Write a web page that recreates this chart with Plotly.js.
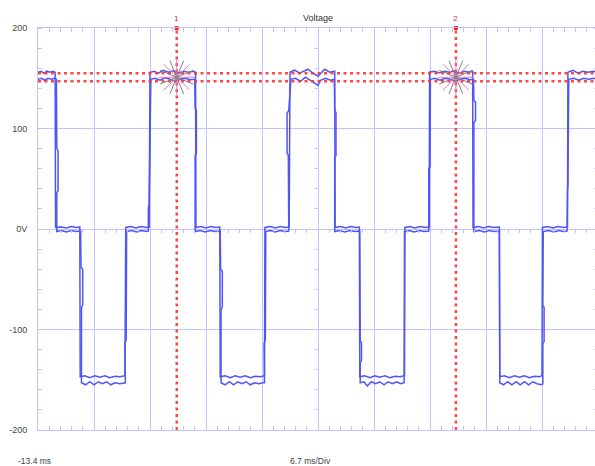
<!DOCTYPE html>
<html>
<head>
<meta charset="utf-8">
<script src="https://cdn.plot.ly/plotly-3.0.1.min.js"></script>
<style>
html,body{margin:0;padding:0;overflow:hidden;background:#fff;}
#chart{width:600px;height:466px;}
</style>
</head>
<body>
<div id="chart"></div>
<script>
// ---- data (time in ms, voltage in V) ----
const upperT = [-13.4,-13.0,-12.7,-12.3,-12.0,-11.6,-11.35,
  -11.3,-10.6,-10.0,-9.4,-8.8,-8.4,
  -8.35,-7.8,-7.2,-6.6,-6.0,-5.4,-4.8,-4.2,-3.6,-3.0,
  -2.9,-2.3,-1.7,-1.1,-0.5,-0.1,
  0.0,0.5,1.0,1.6,2.2,2.8,3.4,4.0,4.6,5.2,5.45,
  5.5,6.1,6.7,7.3,7.9,8.35,
  8.4,9.0,9.6,10.2,10.8,11.4,12.0,12.6,13.2,13.7,
  13.75,14.4,15.0,15.6,16.2,16.65,
  16.75,17.3,17.9,18.5,18.9,19.5,20.1,20.9,21.5,22.1,
  22.15,22.8,23.4,24.0,24.6,25.05,
  25.1,25.7,26.3,26.9,27.5,28.1,28.7,29.3,29.9,30.45,
  30.5,31.1,31.7,32.3,32.9,33.4,
  33.45,34.0,34.6,35.2,35.8,36.4,37.0,37.6,38.2,38.6,
  38.65,39.3,39.9,40.5,41.1,41.8,
  41.85,42.4,43.0,43.6,44.2,44.8,45.4,46.0,46.6,46.9,
  46.95,47.6,48.2,48.8,49.4,49.95,
  50.0,50.6,51.2,51.8,52.4,53.0,53.6];
const upperV = [156,157,155,157,156,157,156,
  1.5,2,1,2.5,1.5,2,
  -147,-146,-148,-146,-147.5,-146,-148,-146.5,-147,-146,
  1.5,2.5,1,2.5,1.5,2,
  156,157,155,158,156,157.5,155,157,156,157,156,
  1.5,2.5,1,2.5,1.5,2,
  -147,-146,-148,-146,-147.5,-146,-148,-146.5,-147,-146,
  1.5,2.5,1,2.5,1.5,2,
  156,158,155,157,159,155,152,159,156,157,
  1.5,2.5,1,2.5,1.5,2,
  -147,-146,-148,-146,-147.5,-146,-148,-146.5,-147,-146,
  1.5,2.5,1,2.5,1.5,2,
  156,157,155.5,157,156,157.5,155,157,156,157,
  1.5,2.5,1,2.5,1.5,2,
  -147,-146,-148,-146,-147.5,-146,-148,-146.5,-147,-146,
  1.5,2.5,1,2.5,1.5,2,
  156,158,155,157,156,157,156];

const lowerT = [-13.4,-13.0,-12.6,-12.2,-11.8,-11.4,-11.2,
  -11.15,-11.0,-11.0,-11.15,-11.15,
  -10.6,-10.0,-9.4,-8.8,-8.3,
  -8.25,-8.05,-8.05,-8.2,-8.2,
  -7.7,-7.2,-6.7,-6.2,-5.7,-5.2,-4.7,-4.2,-3.6,-3.1,-2.95,
  -3.0,-2.85,-2.8,
  -2.2,-1.6,-1.0,-0.4,-0.2,
  -0.2,-0.1,0.1,
  0.6,1.2,1.8,2.4,3.0,3.6,4.2,4.8,5.35,
  5.4,5.55,5.55,5.4,5.4,
  6.0,6.6,7.2,7.8,8.4,
  8.45,8.65,8.65,8.5,8.5,
  9.0,9.5,10.0,10.5,11.0,11.5,12.0,12.5,13.0,13.5,13.7,
  13.65,13.8,13.85,
  14.4,15.0,15.6,16.2,16.6,
  16.55,16.4,16.4,16.6,16.85,
  17.4,18.0,18.6,19.2,19.8,20.1,20.4,21.0,21.6,22.05,
  22.1,22.25,22.25,22.1,22.1,
  22.7,23.3,23.9,24.5,25.1,
  25.15,25.3,25.3,25.15,25.15,
  25.6,26.0,26.5,27.0,27.5,28.0,28.5,29.0,29.5,30.0,30.4,
  30.45,
  31.0,31.6,32.2,32.8,33.35,
  33.35,33.5,33.55,
  34.1,34.7,35.3,35.9,36.5,37.1,37.7,38.3,38.7,
  38.75,38.95,38.95,38.75,38.75,
  39.4,40.0,40.6,41.2,41.8,
  41.85,
  42.3,42.8,43.3,43.8,44.3,44.8,45.3,45.8,46.3,46.8,47.0,
  47.0,47.15,47.15,47.0,47.05,
  47.7,48.3,48.9,49.5,49.9,
  49.95,50.0,50.1,
  50.7,51.3,51.9,52.5,53.1,53.6];
const lowerV = [149,150,148,150,149,150,149,
  80,78,38,36,-2.5,
  -1.5,-3,-1.5,-2.5,-2,
  -38,-40,-76,-78,-153,
  -155,-152,-155,-152,-154,-152,-155,-153,-154,-153,-153,
  -114,-110,-2.5,
  -1.5,-3,-1.5,-2.5,-2,
  21,24,149,
  150,148,150.5,149,147,149,150,148.5,149,
  120,118,75,73,-2.5,
  -1.5,-3,-1.5,-2.5,-2,
  -40,-42,-78,-80,-153,
  -155,-152,-155,-152,-154,-152,-155,-153,-154,-153,-153,
  -114,-110,-2.5,
  -1.5,-3,-1.5,-2.5,-2,
  73,76,115,118,149,
  150,147,151,148,145,143,148,150,148,149,
  118,116,73,71,-2.5,
  -1.5,-3,-1.5,-2.5,-2,
  -111,-113,-131,-133,-153,
  -152,-156,-152,-154,-152,-155,-152,-154,-152,-154,-153,
  -2.5,
  -1.5,-3,-1.5,-2.5,-2,
  60,62,149,
  150,148,150,149,147,149,150,148.5,149,
  128,126,108,106,-2.5,
  -1.5,-3,-1.5,-2.5,-2,
  -153,
  -155,-152,-155,-152,-155,-152,-155,-152,-154,-155,-154,
  -114,-112,-78,-76,-2.5,
  -1.5,-3,-1.5,-2.5,-2,
  40,42,149,
  150,148,150,149,150,149];

const cursorTimes = [3.2, 36.6];
const cursorLabels = ['1', '2'];
const cursorLevels = [155, 147];
const starLevel = 151;

const xStart = -13.4, msPerDiv = 6.7, nDiv = 10;
const yTickVals = [200, 100, 0, -100, -200];
const yTickText = ['200', '100', '0V', '-100', '-200'];
const titleText = 'Voltage';
const leftLabel = '-13.4 ms';
const divLabel = '6.7 ms/Div';

// ---- styling ----
const gridCol = '#c2c2ff';
const waveCol = '#4f55f6';
const redCol = 'rgba(255,50,50,0.9)';
const xEnd = xStart + msPerDiv * nDiv;
const fnt = 'Liberation Sans, Arial, sans-serif';

const traces = [];
traces.push({x: upperT, y: upperV, mode: 'lines', line: {color: waveCol, width: 1.5}, hoverinfo: 'skip'});
traces.push({x: lowerT, y: lowerV, mode: 'lines', line: {color: waveCol, width: 1.5}, hoverinfo: 'skip'});

cursorTimes.forEach(t => {
  traces.push({x: [t, t], y: [-200, 200], mode: 'lines',
    line: {color: redCol, width: 2.5, dash: '3px,3.5px'}, hoverinfo: 'skip'});
});
cursorLevels.forEach(v => {
  traces.push({x: [xStart, xEnd], y: [v, v], mode: 'lines',
    line: {color: redCol, width: 2.5, dash: '3px,3.5px'}, hoverinfo: 'skip'});
});
[0, 22.5].forEach(a => {
  traces.push({x: cursorTimes, y: cursorTimes.map(() => starLevel), mode: 'markers',
    marker: {symbol: 'asterisk-open', size: 30, angle: a, line: {color: 'rgba(255,90,90,0.45)', width: 1}},
    hoverinfo: 'skip'});
});
traces.push({x: cursorTimes, y: cursorTimes.map(() => 200), mode: 'markers', cliponaxis: false,
  marker: {symbol: 'square', size: 4, color: 'rgb(255,30,30)'}, hoverinfo: 'skip'});
// helper trace for center axes
traces.push({x: [xStart], y: [0], xaxis: 'x2', yaxis: 'y2', mode: 'markers',
  marker: {opacity: 0}, hoverinfo: 'skip'});

const annotations = [];
cursorTimes.forEach((t, i) => {
  annotations.push({x: t, xref: 'x', y: 1.024, yref: 'paper', text: cursorLabels[i], showarrow: false,
    font: {family: fnt, size: 8, color: '#c03030'}, xanchor: 'center', yanchor: 'middle'});
});
annotations.push({x: -0.007, xref: 'paper', y: -0.077, yref: 'paper', text: leftLabel, showarrow: false,
  font: {family: fnt, size: 8.5, color: '#444'}, xanchor: 'center', yanchor: 'middle'});
annotations.push({x: 0.486, xref: 'paper', y: -0.077, yref: 'paper', text: divLabel, showarrow: false,
  font: {family: fnt, size: 8.5, color: '#444'}, xanchor: 'center', yanchor: 'middle'});

const layout = {
  width: 600, height: 466,
  margin: {l: 38, r: 2, t: 28, b: 36},
  paper_bgcolor: '#fff', plot_bgcolor: '#fff',
  showlegend: false,
  title: {text: titleText, x: 0.5, xref: 'paper', xanchor: 'center', y: 0.962, yref: 'container', yanchor: 'middle',
    font: {family: fnt, size: 9, color: '#333'}},
  xaxis: {range: [xStart, xEnd], dtick: msPerDiv, tick0: xStart, showticklabels: false,
    showgrid: true, gridcolor: gridCol, gridwidth: 1, zeroline: false,
    showline: true, linecolor: gridCol, linewidth: 1, mirror: 'ticks',
    ticks: '', minor: {dtick: msPerDiv / 5, tick0: xStart, ticks: 'inside', ticklen: 4, tickcolor: gridCol, showgrid: false}},
  yaxis: {range: [-200, 200], tickvals: yTickVals, ticktext: yTickText,
    showgrid: true, gridcolor: gridCol, gridwidth: 1, zeroline: false,
    showline: true, linecolor: gridCol, linewidth: 1, mirror: 'ticks', ticks: '',
    ticklabelstandoff: 8,
    tickfont: {family: fnt, size: 9, color: '#444'},
    minor: {dtick: 20, ticks: 'inside', ticklen: 4, tickcolor: gridCol, showgrid: false}},
  xaxis2: {range: [xStart, xEnd], overlaying: 'x', anchor: 'free', position: 0.5,
    showgrid: false, zeroline: false, showline: false, showticklabels: false, ticks: '',
    tick0: xStart, dtick: msPerDiv,
    minor: {dtick: msPerDiv / 5, tick0: xStart, ticks: 'outside', ticklen: 3, tickcolor: gridCol}},
  yaxis2: {range: [-200, 200], overlaying: 'y', anchor: 'free', position: 0.5,
    showgrid: false, zeroline: false, showline: false, showticklabels: false, ticks: '',
    dtick: 100,
    minor: {dtick: 20, ticks: 'outside', ticklen: 3, tickcolor: gridCol}},
  annotations: annotations
};

Plotly.newPlot('chart', traces, layout, {staticPlot: true, displayModeBar: false});
</script>
</body>
</html>
